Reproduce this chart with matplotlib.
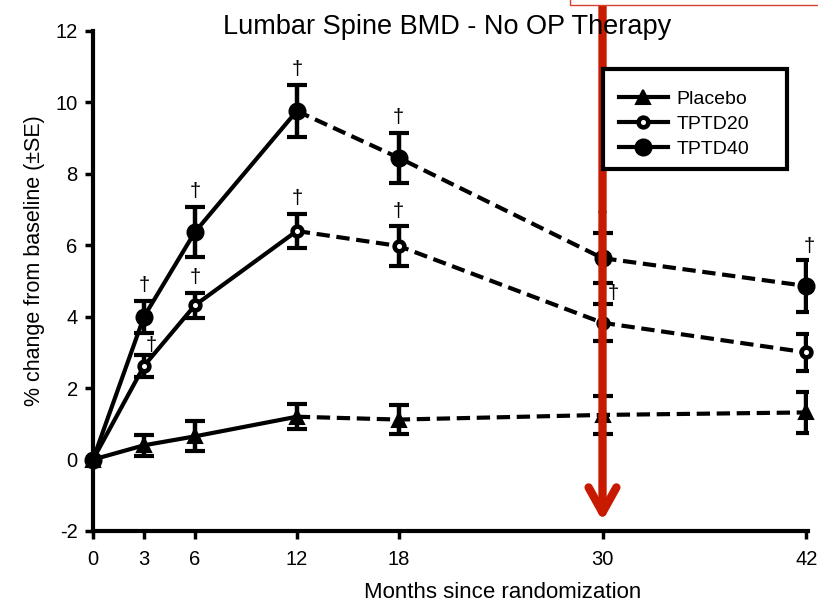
import matplotlib as mpl
mpl.use('Agg')
import matplotlib.pyplot as plt
from matplotlib.lines import Line2D
from matplotlib.patches import Rectangle

plt.rcParams['font.family'] = ['Liberation Sans', 'DejaVu Sans']
plt.rcParams['axes.unicode_minus'] = False

# months since randomization
months = [0, 3, 6, 12, 18, 30, 42]

# mean % change in lumbar spine BMD and standard errors
placebo = [0.0, 0.40, 0.65, 1.20, 1.12, 1.25, 1.32]
placebo_se = [0.0, 0.30, 0.42, 0.35, 0.40, 0.52, 0.58]
tptd20 = [0.0, 2.62, 4.32, 6.40, 5.98, 3.83, 3.00]
tptd20_se = [0.0, 0.30, 0.35, 0.47, 0.55, 0.52, 0.52]
tptd40 = [0.0, 4.00, 6.37, 9.76, 8.45, 5.64, 4.86]
tptd40_se = [0.0, 0.45, 0.70, 0.73, 0.70, 0.70, 0.72]

# significance daggers: (series, month index)
daggers = [('TPTD40', 1), ('TPTD40', 2), ('TPTD40', 3), ('TPTD40', 4),
           ('TPTD40', 5), ('TPTD40', 6),
           ('TPTD20', 1), ('TPTD20', 2), ('TPTD20', 3), ('TPTD20', 4),
           ('TPTD20', 5)]

series = {
    'Placebo': (placebo, placebo_se, dict(marker='^', ms=10, mfc='black', mew=1.5)),
    'TPTD20': (tptd20, tptd20_se, dict(marker='o', ms=7, mfc='white', mew=3.3)),
    'TPTD40': (tptd40, tptd40_se, dict(marker='o', ms=11.5, mfc='black', mew=1.5)),
}

fig = plt.figure(figsize=(8.18, 6.04), dpi=100)
ax = fig.add_axes([93 / 818, 73 / 604, (808 - 93) / 818, 500 / 604])

lw = 3
split = months.index(12)
for name, (vals, se, mk) in series.items():
    # solid up to month 12, dashed afterwards
    ax.plot(months[:split + 1], vals[:split + 1], color='black', lw=lw,
            solid_capstyle='butt', zorder=2, clip_on=False)
    ax.plot(months[split:], vals[split:], color='black', lw=lw,
            dashes=(3.2, 1.6), zorder=2, clip_on=False)
    ax.errorbar(months[1:], vals[1:], yerr=se[1:], fmt='none', ecolor='black',
                elinewidth=3.2, capsize=7.2, capthick=3, zorder=3)
    ax.plot(months, vals, ls='none', color='black', mec='black', zorder=4,
            clip_on=False, **mk)

# daggers above the upper error bar, a few nudged aside
nudge = {('TPTD20', 1): (5, 7), ('TPTD20', 5): (8, 8), ('TPTD40', 6): (2, 10)}
for name, i in daggers:
    vals, se, _ = series[name]
    dx, dy = nudge.get((name, i), (0, 11))
    ax.annotate('\u2020', xy=(months[i], vals[i] + se[i]), xytext=(dx, dy),
                textcoords='offset points', ha='center', va='center',
                fontsize=14.5, zorder=5, annotation_clip=False)

ax.set_xlim(0, 42.1)
ax.set_ylim(-2, 12)
ax.set_xticks(months)
ax.set_yticks(range(-2, 13, 2))
for s in ['top', 'right']:
    ax.spines[s].set_visible(False)
for s in ['left', 'bottom']:
    ax.spines[s].set_linewidth(3)
ax.tick_params(axis='both', direction='out', length=6, width=2.5,
               labelsize=14.5)
ax.tick_params(axis='x', pad=8)
ax.tick_params(axis='y', pad=5)

fig.text(503 / 818, 1 - 592 / 604, 'Months since randomization',
         ha='center', va='center', fontsize=16)
fig.text(35 / 818, 1 - 261 / 604, '% change from baseline (\u00b1SE)',
         ha='center', va='center', rotation=90, fontsize=15.5)
fig.text(447 / 818, 1 - 27 / 604, 'Lumbar Spine BMD - No OP Therapy',
         ha='center', va='center', fontsize=19.5)

# legend box
fig.patches.append(Rectangle((603 / 818, 1 - 169 / 604), 184 / 818, 100 / 604,
                             transform=fig.transFigure, fc='white', ec='black',
                             lw=3, zorder=5))
handles = [Line2D([], [], color='black', lw=lw, mec='black', **mk)
           for _, _, mk in series.values()]
leg = fig.legend(handles, list(series.keys()), loc='upper left',
                 bbox_to_anchor=(619 / 818, 1 - 90 / 604),
                 bbox_transform=fig.transFigure, frameon=False, fontsize=14,
                 handlelength=2.5, handletextpad=0.45, labelspacing=0.38,
                 borderpad=0, borderaxespad=0)
leg.set_zorder(6)

# red box at the top edge
fig.patches.append(Rectangle((570 / 818, 1 - 5 / 604), 260 / 818, 10 / 604,
                             transform=fig.transFigure, fc='white',
                             ec='#d9402f', lw=1, zorder=7, clip_on=False))

# red arrow down to month 30
ax.annotate('', xy=(30, -1.72), xytext=(30, 1.0),
            xycoords='data', textcoords=('data', 'figure fraction'),
            arrowprops=dict(arrowstyle='->,head_length=0.9,head_width=0.5',
                            color='#c81a00', lw=6, shrinkA=0, shrinkB=0,
                            mutation_scale=20),
            zorder=10, annotation_clip=False)

plt.savefig('out.png', dpi=100)
